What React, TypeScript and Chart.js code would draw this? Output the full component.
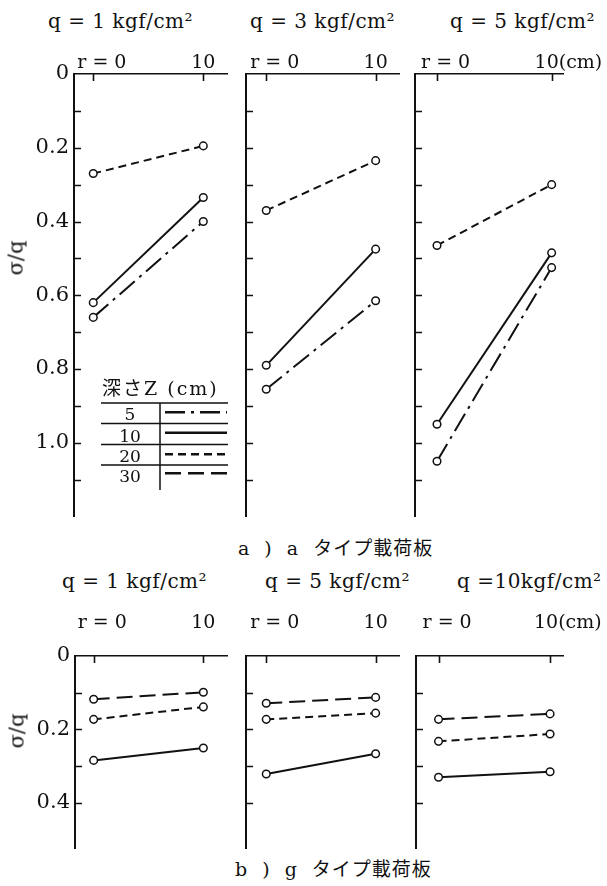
import React, { useEffect, useRef } from 'react';
import { Chart, registerables } from 'chart.js';

Chart.register(...registerables);

const SERIF = '"DejaVu Serif", "Noto Sans CJK JP", serif';
const INK = '#111111';

// ---------- data ----------
const rValues = [0, 10];
const depthLabels = ['5', '10', '20', '30'];

// a type loading plate (σ/q at r = 0, r = 10)
const aQ1Z5 = [0.66, 0.4];
const aQ1Z10 = [0.62, 0.335];
const aQ1Z20 = [0.27, 0.195];
const aQ3Z5 = [0.855, 0.615];
const aQ3Z10 = [0.79, 0.475];
const aQ3Z20 = [0.37, 0.235];
const aQ5Z5 = [1.05, 0.525];
const aQ5Z10 = [0.95, 0.485];
const aQ5Z20 = [0.465, 0.3];

// g type loading plate
const gQ1Z10 = [0.285, 0.251];
const gQ1Z20 = [0.173, 0.139];
const gQ1Z30 = [0.118, 0.099];
const gQ5Z10 = [0.322, 0.267];
const gQ5Z20 = [0.173, 0.156];
const gQ5Z30 = [0.129, 0.113];
const gQ10Z10 = [0.331, 0.316];
const gQ10Z20 = [0.233, 0.213];
const gQ10Z30 = [0.173, 0.158];

const aTitles = ['q = 1 kgf/cm²', 'q = 3 kgf/cm²', 'q = 5 kgf/cm²'];
const gTitles = ['q = 1 kgf/cm²', 'q = 5 kgf/cm²', 'q =10kgf/cm²'];
const aYTickLabels = ['0', '0.2', '0.4', '0.6', '0.8', '1.0'];
const gYTickLabels = ['0', '0.2', '0.4'];
const aYTickValues = [0.1, 0.2, 0.3, 0.4, 0.5, 0.6, 0.7, 0.8, 0.9, 1.0, 1.1];
const gYTickValues = [0.1, 0.2, 0.3, 0.4];
const xLabelsInner = ['r = 0', '10'];
const xLabelsLast = ['r = 0', '10(cm)'];
const yAxisTitle = 'σ/q';
const legendTitle = '深さZ (cm)';
const captionA = 'a ) a タイプ載荷板';
const captionG = 'b ) g タイプ載荷板';

// ---------- styles ----------
const dashByDepth: Record<string, number[]> = {
  '5': [20, 6, 3, 6],
  '10': [],
  '20': [8, 5],
  '30': [16, 7],
};

type Series = { depth: string; values: number[] };
type Panel = {
  key: string;
  left: number;
  top: number;
  padL: number;
  padT: number;
  padR: number;
  padB: number;
  chartW: number;
  chartH: number;
  xMin: number;
  xMax: number;
  yMax: number;
  yTicks: number[];
  yLabels: string[] | null;
  xLabels: string[];
  xLabelGap: number;
  xLabelShift: number;
  series: Series[];
  legend: boolean;
};

const topRow = { top: 0, padT: 74, chartH: 446, padB: 2, yMax: 1.2, gap: 6 };
const botRow = { top: 606, padT: 50, chartH: 196, padB: 2, yMax: 0.5255, gap: 28 };

const panels: Panel[] = [
  {
    key: 'a1', left: 0, top: topRow.top, padL: 74, padT: topRow.padT, padR: 0, padB: topRow.padB,
    chartW: 159, chartH: topRow.chartH, xMin: -1.75, xMax: 12.2, yMax: topRow.yMax,
    yTicks: aYTickValues, yLabels: aYTickLabels, xLabels: xLabelsInner, xLabelGap: topRow.gap, xLabelShift: 0,
    series: [
      { depth: '5', values: aQ1Z5 },
      { depth: '10', values: aQ1Z10 },
      { depth: '20', values: aQ1Z20 },
    ],
    legend: true,
  },
  {
    key: 'a2', left: 236, top: topRow.top, padL: 10, padT: topRow.padT, padR: 0, padB: topRow.padB,
    chartW: 159, chartH: topRow.chartH, xMin: -1.85, xMax: 12.18, yMax: topRow.yMax,
    yTicks: aYTickValues, yLabels: null, xLabels: xLabelsInner, xLabelGap: topRow.gap, xLabelShift: 0,
    series: [
      { depth: '5', values: aQ3Z5 },
      { depth: '10', values: aQ3Z10 },
      { depth: '20', values: aQ3Z20 },
    ],
    legend: false,
  },
  {
    key: 'a3', left: 405, top: topRow.top, padL: 10, padT: topRow.padT, padR: 44, padB: topRow.padB,
    chartW: 148, chartH: topRow.chartH, xMin: -1.92, xMax: 10.99, yMax: topRow.yMax,
    yTicks: aYTickValues, yLabels: null, xLabels: xLabelsLast, xLabelGap: topRow.gap, xLabelShift: -5,
    series: [
      { depth: '5', values: aQ5Z5 },
      { depth: '10', values: aQ5Z10 },
      { depth: '20', values: aQ5Z20 },
    ],
    legend: false,
  },
  {
    key: 'g1', left: 0, top: botRow.top, padL: 75, padT: botRow.padT, padR: 0, padB: botRow.padB,
    chartW: 158, chartH: botRow.chartH, xMin: -1.7, xMax: 12.2, yMax: botRow.yMax,
    yTicks: gYTickValues, yLabels: gYTickLabels, xLabels: xLabelsInner, xLabelGap: botRow.gap, xLabelShift: 0,
    series: [
      { depth: '10', values: gQ1Z10 },
      { depth: '20', values: gQ1Z20 },
      { depth: '30', values: gQ1Z30 },
    ],
    legend: false,
  },
  {
    key: 'g2', left: 236, top: botRow.top, padL: 10, padT: botRow.padT, padR: 0, padB: botRow.padB,
    chartW: 159, chartH: botRow.chartH, xMin: -1.85, xMax: 12.18, yMax: botRow.yMax,
    yTicks: gYTickValues, yLabels: null, xLabels: xLabelsInner, xLabelGap: botRow.gap, xLabelShift: 0,
    series: [
      { depth: '10', values: gQ5Z10 },
      { depth: '20', values: gQ5Z20 },
      { depth: '30', values: gQ5Z30 },
    ],
    legend: false,
  },
  {
    key: 'g3', left: 406, top: botRow.top, padL: 10, padT: botRow.padT, padR: 38, padB: botRow.padB,
    chartW: 147, chartH: botRow.chartH, xMin: -2.02, xMax: 11.16, yMax: botRow.yMax,
    yTicks: gYTickValues, yLabels: null, xLabels: xLabelsLast, xLabelGap: botRow.gap, xLabelShift: -4,
    series: [
      { depth: '10', values: gQ10Z10 },
      { depth: '20', values: gQ10Z20 },
      { depth: '30', values: gQ10Z30 },
    ],
    legend: false,
  },
];

function drawLegend(ctx: CanvasRenderingContext2D, area: { left: number; top: number }) {
  const L = area.left;
  const T = area.top;
  ctx.save();
  ctx.fillStyle = INK;
  ctx.strokeStyle = INK;
  ctx.textBaseline = 'alphabetic';
  ctx.textAlign = 'left';
  ctx.font = `19px ${SERIF}`;
  (ctx as any).letterSpacing = '2px';
  ctx.fillText(legendTitle, L + 28, T + 321);

  const rowLines = [329, 349.5, 370.5, 391];
  ctx.lineWidth = 1.5;
  ctx.setLineDash([]);
  ctx.beginPath();
  for (let i = 0; i < rowLines.length; i++) {
    ctx.moveTo(L + 27, T + rowLines[i]);
    ctx.lineTo(L + 154, T + rowLines[i]);
  }
  ctx.moveTo(L + 86, T + 329);
  ctx.lineTo(L + 86, T + 416);
  ctx.stroke();

  const numBase = [346, 367.7, 387.7, 407.7];
  const sampleY = [338.3, 358.7, 380.3, 399.3];
  ctx.font = `17px ${SERIF}`;
  (ctx as any).letterSpacing = '0px';
  ctx.textAlign = 'center';
  ctx.lineWidth = 2.5;
  for (let i = 0; i < depthLabels.length; i++) {
    const d = depthLabels[i];
    ctx.fillText(d, L + 56, T + numBase[i]);
    ctx.setLineDash(dashByDepth[d]);
    ctx.beginPath();
    ctx.moveTo(L + 91, T + sampleY[i]);
    ctx.lineTo(L + 153, T + sampleY[i]);
    ctx.stroke();
  }
  ctx.restore();
}

function PanelChart({ p }: { p: Panel }) {
  const ref = useRef<HTMLCanvasElement | null>(null);
  const width = p.padL + p.chartW + p.padR;
  const height = p.padT + p.chartH + p.padB;

  useEffect(() => {
    const canvas = ref.current;
    if (!canvas) return;

    const panelPlugin = {
      id: 'panelDecor' + p.key,
      afterDraw(chart: any) {
        const ctx: CanvasRenderingContext2D = chart.ctx;
        const area = chart.chartArea;
        const xs = chart.scales.x;
        const ys = chart.scales.y;
        ctx.save();
        ctx.strokeStyle = INK;
        ctx.fillStyle = INK;
        ctx.lineWidth = 1.6;
        ctx.setLineDash([]);
        ctx.beginPath();
        // inward y ticks
        for (const v of p.yTicks) {
          const y = Math.round(ys.getPixelForValue(v)) + 0.5;
          ctx.moveTo(area.left, y);
          ctx.lineTo(area.left + 7, y);
        }
        // inward x ticks
        for (const r of rValues) {
          const x = Math.round(xs.getPixelForValue(r)) + 0.5;
          ctx.moveTo(x, area.top);
          ctx.lineTo(x, area.top + 7);
        }
        ctx.stroke();

        // x labels above the top axis
        ctx.font = `19px ${SERIF}`;
        ctx.textBaseline = 'alphabetic';
        ctx.textAlign = 'left';
        const base = area.top - p.xLabelGap;
        const x0 = xs.getPixelForValue(rValues[0]);
        ctx.fillText(p.xLabels[0], x0 - 16, base);
        const x1 = xs.getPixelForValue(rValues[1]);
        const half = ctx.measureText('10').width / 2;
        ctx.fillText(p.xLabels[1], x1 - half + p.xLabelShift, base);
        ctx.restore();

        if (p.legend) drawLegend(ctx, area);
      },
    };

    const zeroPad = (s: any) => {
      s.paddingTop = 0;
      s.paddingBottom = 0;
      s.paddingLeft = 0;
      s.paddingRight = 0;
    };

    const chart = new Chart(canvas, {
      type: 'line',
      data: {
        datasets: p.series.map((s) => ({
          label: s.depth,
          data: rValues.map((r, i) => ({ x: r, y: s.values[i] })),
          borderColor: INK,
          borderWidth: 2,
          borderDash: dashByDepth[s.depth],
          pointRadius: 3.8,
          pointBorderWidth: 1.5,
          pointBackgroundColor: '#ffffff',
          pointBorderColor: INK,
          fill: false,
          tension: 0,
        })),
      },
      options: {
        responsive: false,
        animation: false,
        devicePixelRatio: 1,
        layout: { padding: { left: 0, top: 0, right: p.padR, bottom: p.padB } },
        plugins: {
          legend: { display: false },
          tooltip: { enabled: false },
          title: { display: false },
        },
        scales: {
          x: {
            type: 'linear',
            position: 'top',
            min: p.xMin,
            max: p.xMax,
            grid: { display: false, drawTicks: false },
            border: { display: true, color: INK, width: 1.6 },
            ticks: { display: false },
            afterFit: (s: any) => {
              s.height = p.padT;
              zeroPad(s);
            },
          },
          y: {
            type: 'linear',
            reverse: true,
            min: 0,
            max: p.yMax,
            grid: { display: false, drawTicks: false },
            border: { display: true, color: INK, width: 2 },
            ticks: {
              display: !!p.yLabels,
              stepSize: 0.1,
              autoSkip: false,
              padding: 5,
              color: INK,
              font: { family: SERIF, size: 21 },
              callback: (v: any) => {
                const labels = p.yLabels || [];
                const n = Number(v) * 10;
                const i = Math.round(n);
                if (Math.abs(n - i) > 1e-6 || i % 2 !== 0) return '';
                return labels[i / 2] ?? '';
              },
            },
            afterFit: (s: any) => {
              s.width = p.padL;
              zeroPad(s);
            },
          },
        },
      } as any,
      plugins: [panelPlugin],
    });
    return () => chart.destroy();
  }, [p]);

  return (
    <canvas
      ref={ref}
      width={width}
      height={height}
      style={{ position: 'absolute', left: p.left, top: p.top, width, height }}
    />
  );
}

function Txt({ x, baseline, size, text, spacing = 0, wordSpacing = 0 }: {
  x: number; baseline: number; size: number; text: string; spacing?: number; wordSpacing?: number;
}) {
  return (
    <div
      style={{
        position: 'absolute',
        left: x,
        top: baseline - 0.846 * size,
        fontFamily: SERIF,
        fontSize: size,
        lineHeight: `${size}px`,
        whiteSpace: 'pre',
        color: INK,
        letterSpacing: spacing,
        wordSpacing,
      }}
    >
      {text}
    </div>
  );
}

function RotTitle({ cx, cy }: { cx: number; cy: number }) {
  return (
    <div
      style={{
        position: 'absolute',
        left: cx,
        top: cy,
        transform: 'translate(-50%, -50%) rotate(-90deg)',
        fontFamily: SERIF,
        fontSize: 21,
        lineHeight: '21px',
        whiteSpace: 'pre',
        color: INK,
      }}
    >
      {yAxisTitle}
    </div>
  );
}

export default function App() {
  const aTitleX = [48, 250, 450];
  const gTitleX = [62, 265, 457];
  return (
    <div
      style={{
        position: 'absolute',
        left: 0,
        top: 0,
        width: 607,
        height: 886,
        overflow: 'hidden',
        background: '#ffffff',
      }}
    >
      {aTitles.map((t, i) => (
        <Txt key={'at' + i} x={aTitleX[i]} baseline={28} size={20} spacing={0.5} text={t} />
      ))}
      {gTitles.map((t, i) => (
        <Txt key={'gt' + i} x={gTitleX[i]} baseline={588} size={20} spacing={0.5} text={t} />
      ))}
      {panels.map((p) => (
        <PanelChart key={p.key} p={p} />
      ))}
      <RotTitle cx={16} cy={258} />
      <RotTitle cx={17} cy={731} />
      <Txt x={238} baseline={555} size={19} text={captionA} spacing={1} wordSpacing={7} />
      <Txt x={235} baseline={876} size={19} text={captionG} spacing={1} wordSpacing={7} />
    </div>
  );
}
